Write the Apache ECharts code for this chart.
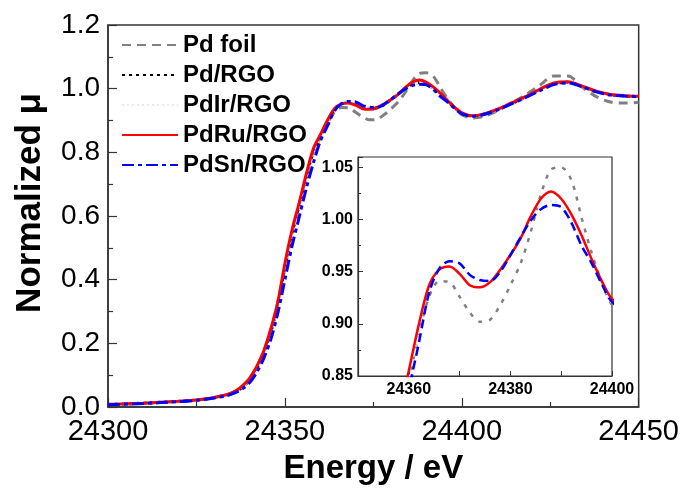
<!DOCTYPE html>
<html lang="en" style="height: 100%">
<head>
    <meta charset="UTF-8">
    <title>Pd K-edge XANES</title>
    <script src="https://cdn.jsdelivr.net/npm/echarts@6/dist/echarts.min.js"></script>
</head>
<body style="height: 100%; margin: 0">
<div id="main" style="width: 682px; height: 490px"></div>
<script>
    // energy grid (eV)
    var energy = [24300, 24310, 24320, 24325, 24330, 24334, 24336, 24338, 24340, 24342, 24344, 24346, 24348,
        24350, 24352, 24354, 24356, 24358, 24360, 24362, 24364, 24366, 24368, 24370, 24372, 24374, 24376,
        24378, 24380, 24382, 24384, 24386, 24388, 24390, 24392, 24394, 24396, 24398, 24400, 24403, 24406,
        24410, 24414, 24418, 24422, 24426, 24430, 24434, 24438, 24442, 24446, 24450];

    var pdFoil = [0.008, 0.012, 0.018, 0.022, 0.030, 0.040, 0.050, 0.066, 0.090, 0.125, 0.175, 0.240, 0.330,
        0.440, 0.545, 0.635, 0.720, 0.800, 0.845, 0.890, 0.926, 0.941, 0.940, 0.926, 0.911, 0.902, 0.904,
        0.918, 0.937, 0.958, 0.988, 1.024, 1.048, 1.050, 1.038, 1.002, 0.968, 0.940, 0.918, 0.908, 0.912,
        0.930, 0.955, 0.980, 1.010, 1.040, 1.040, 1.005, 0.975, 0.958, 0.955, 0.957];

    var pdRGO = [0.008, 0.012, 0.018, 0.022, 0.029, 0.039, 0.048, 0.062, 0.085, 0.120, 0.168, 0.235, 0.320,
        0.440, 0.545, 0.632, 0.722, 0.800, 0.850, 0.895, 0.935, 0.952, 0.957, 0.953, 0.942, 0.938, 0.940,
        0.950, 0.966, 0.983, 1.001, 1.014, 1.019, 1.015, 1.000, 0.980, 0.960, 0.940, 0.922, 0.914, 0.919,
        0.934, 0.953, 0.973, 0.995, 1.015, 1.020, 1.007, 0.991, 0.981, 0.977, 0.975];

    var pdIrRGO = [0.008, 0.012, 0.018, 0.022, 0.029, 0.039, 0.048, 0.062, 0.085, 0.120, 0.168, 0.235, 0.320,
        0.440, 0.545, 0.632, 0.722, 0.800, 0.848, 0.895, 0.938, 0.954, 0.960, 0.957, 0.946, 0.941, 0.943,
        0.953, 0.968, 0.985, 1.003, 1.015, 1.018, 1.014, 1.000, 0.982, 0.962, 0.940, 0.920, 0.913, 0.918,
        0.934, 0.953, 0.973, 0.995, 1.015, 1.020, 1.007, 0.991, 0.981, 0.977, 0.975];

    var pdRuRGO = [0.008, 0.012, 0.018, 0.022, 0.030, 0.040, 0.050, 0.066, 0.090, 0.127, 0.175, 0.245, 0.330,
        0.451, 0.555, 0.640, 0.730, 0.810, 0.855, 0.900, 0.937, 0.952, 0.955, 0.948, 0.937, 0.935, 0.940,
        0.952, 0.966, 0.982, 1.003, 1.020, 1.027, 1.020, 1.005, 0.985, 0.962, 0.941, 0.924, 0.915, 0.920,
        0.935, 0.955, 0.975, 0.998, 1.018, 1.022, 1.008, 0.992, 0.982, 0.978, 0.976];

    var pdSnRGO = [0.007, 0.011, 0.017, 0.021, 0.028, 0.037, 0.045, 0.057, 0.076, 0.108, 0.152, 0.212, 0.295,
        0.400, 0.505, 0.595, 0.685, 0.765, 0.835, 0.882, 0.930, 0.953, 0.960, 0.958, 0.947, 0.942, 0.941,
        0.950, 0.966, 0.983, 0.999, 1.010, 1.014, 1.012, 0.997, 0.975, 0.958, 0.938, 0.921, 0.913, 0.918,
        0.933, 0.952, 0.972, 0.993, 1.013, 1.018, 1.006, 0.990, 0.980, 0.977, 0.975];

    var mainTicksY = [0, 0.2, 0.4, 0.6, 0.8, 1.0, 1.2];

    function pairs(ys) {
        return energy.map(function (e, i) { return [e, ys[i]]; });
    }

    var styles = {
        'Pd foil':   {color: '#808080', type: [9, 6], width: 3},
        'Pd/RGO':    {color: '#000000', type: [3, 4], width: 3},
        'PdIr/RGO':  {color: '#dcefe8', type: [2, 3], width: 3},
        'PdRu/RGO':  {color: '#ff0000', type: 'solid', width: 3},
        'PdSn/RGO':  {color: '#0000ff', type: [12, 4, 4, 4], width: 3}
    };
    var insetStyles = {
        'Pd foil':   {color: '#808080', type: [4, 7], width: 2.5},
        'PdIr/RGO':  {color: '#dcefe8', type: [2, 3], width: 2.5},
        'PdRu/RGO':  {color: '#ff0000', type: 'solid', width: 2.5},
        'PdSn/RGO':  {color: '#0000ff', type: [9, 5], width: 2.5}
    };
    var allData = {
        'Pd foil': pdFoil, 'Pd/RGO': pdRGO, 'PdIr/RGO': pdIrRGO,
        'PdRu/RGO': pdRuRGO, 'PdSn/RGO': pdSnRGO
    };

    var series = [];
    Object.keys(allData).forEach(function (name) {
        var s = styles[name];
        series.push({
            name: name, type: 'line', xAxisIndex: 0, yAxisIndex: 0,
            data: pairs(allData[name]), symbol: 'none', smooth: 0.3,
            itemStyle: {color: s.color},
            lineStyle: {color: s.color, type: s.type, width: s.width}
        });
    });
    Object.keys(insetStyles).forEach(function (name) {
        var s = insetStyles[name];
        series.push({
            name: name + ' ', type: 'line', xAxisIndex: 1, yAxisIndex: 1,
            data: pairs(allData[name]), symbol: 'none', smooth: 0.3, clip: true,
            itemStyle: {color: s.color},
            lineStyle: {color: s.color, type: s.type, width: s.width}
        });
    });

    var axisFont = {fontFamily: 'Liberation Sans', color: '#000'};

    var option = {
        animation: false,
        backgroundColor: '#fff',
        legend: {
            data: ['Pd foil', 'Pd/RGO', 'PdIr/RGO', 'PdRu/RGO', 'PdSn/RGO'],
            orient: 'vertical',
            left: 116,
            top: 28,
            itemWidth: 56,
            itemHeight: 14,
            itemGap: 6,
            itemStyle: {opacity: 0},
            textStyle: {fontFamily: 'Liberation Sans', fontWeight: 'bold', fontSize: 24, color: '#000', lineHeight: 24}
        },
        graphic: [{
            type: 'text',
            x: 30, y: 203,
            rotation: Math.PI / 2,
            style: {
                text: 'Normalized \u03bc',
                font: 'bold 35px "Liberation Sans"',
                fill: '#000',
                align: 'center',
                verticalAlign: 'middle'
            }
        }],
        grid: [
            {left: 108, top: 25, right: 43, bottom: 83, show: true, borderColor: '#333', borderWidth: 1.5},
            {left: 358, top: 157, width: 254, height: 219, show: true, borderColor: '#333', borderWidth: 1.2, backgroundColor: '#fff'}
        ],
        xAxis: [
            {
                gridIndex: 0, type: 'value', min: 24300, max: 24450, interval: 50,
                name: 'Energy / eV', nameLocation: 'middle', nameGap: 45,
                nameTextStyle: {fontFamily: 'Liberation Sans', fontWeight: 'bold', fontSize: 33, color: '#000'},
                axisLine: {lineStyle: {color: '#333', width: 1.5}},
                axisTick: {inside: true, length: 9, lineStyle: {color: '#333', width: 1.2}},
                minorTick: {show: true, splitNumber: 2, length: 5, lineStyle: {color: '#333', width: 1.2}},
                splitLine: {show: false},
                axisLabel: Object.assign({fontSize: 29, margin: 10, formatter: function (v) { return String(v); }}, axisFont)
            },
            {
                gridIndex: 1, type: 'value', min: 24350, max: 24400, interval: 10,
                axisLine: {lineStyle: {color: '#333', width: 1.2}},
                axisTick: {inside: true, length: 5, lineStyle: {color: '#333'}},
                splitLine: {show: false},
                axisLabel: Object.assign({
                    fontSize: 16, fontWeight: 'bold', margin: 6,
                    formatter: function (v) { return v % 20 === 0 ? String(v) : ''; }
                }, axisFont)
            }
        ],
        yAxis: [
            {
                gridIndex: 0, type: 'value', min: mainTicksY[0], max: mainTicksY[mainTicksY.length - 1], interval: 0.2,
                axisLine: {show: true, lineStyle: {color: '#333', width: 1.5}},
                axisTick: {show: true, inside: true, length: 9, lineStyle: {color: '#333', width: 1.2}},
                minorTick: {show: true, splitNumber: 2, length: 5, lineStyle: {color: '#333', width: 1.2}},
                splitLine: {show: false},
                axisLabel: Object.assign({fontSize: 28, margin: 8, formatter: function (v) { return v.toFixed(1); }}, axisFont)
            },
            {
                gridIndex: 1, type: 'value', min: 0.85, max: 1.06, interval: 0.05,
                axisLine: {show: true, lineStyle: {color: '#333', width: 1.2}},
                axisTick: {show: true, inside: true, length: 5, lineStyle: {color: '#333'}},
                minorTick: {show: true, splitNumber: 2, length: 3, lineStyle: {color: '#333'}},
                splitLine: {show: false},
                axisLabel: Object.assign({
                    fontSize: 16, fontWeight: 'bold', margin: 5,
                    showMaxLabel: false,
                    formatter: function (v) { return v.toFixed(2); }
                }, axisFont)
            }
        ],
        series: series
    };

    var myChart = echarts.init(document.getElementById('main'));
    myChart.setOption(option);
</script>
</body>
</html>
